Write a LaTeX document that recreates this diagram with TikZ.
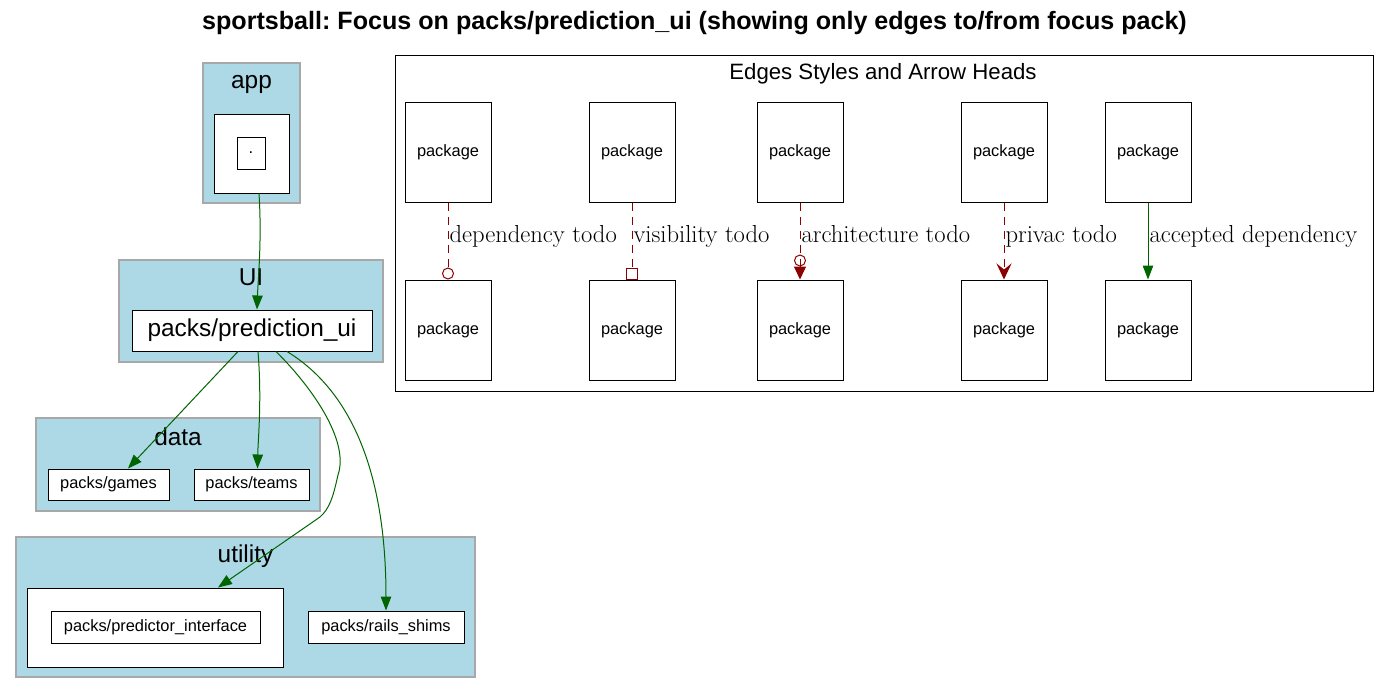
\documentclass[tikz,border=0pt]{standalone}
\usepackage{fontspec}
\newfontfamily\arialfont{Liberation Sans}
\usepackage{xcolor}
\usetikzlibrary{arrows.meta, positioning, calc}
\definecolor{clusterblue}{HTML}{ADD8E6}
\definecolor{clusterline}{HTML}{A8A8A8}
\definecolor{depgreen}{HTML}{006400}
\definecolor{todored}{HTML}{8B0000}
\frenchspacing
\tikzset{
    cluster/.style={
        draw=clusterline,
        fill=clusterblue,
        line width=1.3pt,
        inner sep=0pt,
    },
    clabel/.style={
        anchor=base,
        inner sep=0pt,
        font=\arialfont\fontsize{24.4}{28}\selectfont,
    },
    holder/.style={
        draw=black,
        fill=white,
        line width=1pt,
        inner sep=0pt,
    },
    pack/.style={
        holder,
        font=\arialfont\fontsize{16.4}{19}\selectfont,
    },
    bigpack/.style={
        holder,
        font=\arialfont\fontsize{24.4}{28}\selectfont,
    },
    legendpkg/.style={
        pack,
        minimum width=86pt,
        minimum height=100pt,
    },
    dep/.style={
        draw=depgreen,
        line width=1pt,
        -{Triangle[length=14pt, width=10.5pt]},
    },
    todo/.style={
        draw=todored,
        line width=1pt,
        dash pattern=on 8pt off 6pt,
    },
    tlabel/.style={
        anchor=base west,
        inner sep=1pt,
        yshift=-1pt,
        font=\fontsize{24.6}{28}\selectfont,
    },
}

\begin{document}
\begin{tikzpicture}[x=1pt, y=-1pt, node distance=77pt and 97pt]
    \useasboundingbox (0,0) rectangle (1390,694);

    \node[anchor=base, inner sep=0pt, font=\arialfont\bfseries\fontsize{25.1}{29}\selectfont] (title) at (694.5,29)
        {sportsball: Focus on packs/prediction\_ui (showing only edges to/from focus pack)};

    % clusters
    \node[cluster, minimum width=97pt, minimum height=140pt] (app) at (251.5,133) {};
    \node[clabel] (app-l) at (251.5,88) {app};
    \node[holder, minimum width=75pt, minimum height=79pt] (apphold) at (251.5,153.5) {};
    \node[pack, minimum width=28pt, minimum height=32pt] (dot) at (251,153) {.};

    \node[cluster, minimum width=264pt, minimum height=102pt] (ui) at (251,311) {};
    \node[clabel] (ui-l) at (251,285) {UI};
    \node[bigpack, minimum width=240pt, minimum height=41pt] (predui) at (252,330.5) {packs/prediction\_ui};

    \node[cluster, minimum width=284pt, minimum height=93pt] (data) at (178,464.5) {};
    \node[clabel] (data-l) at (178,445) {data};
    \node[pack, minimum width=121pt, minimum height=31pt] (games) at (108.5,484.5) {packs/games};
    \node[pack, minimum width=115pt, minimum height=31pt] (teams) at (251.5,484.5) {packs/teams};

    \node[cluster, minimum width=459pt, minimum height=140pt] (utility) at (245.5,607) {};
    \node[clabel] (utility-l) at (245.5,562) {utility};
    \node[holder, minimum width=256pt, minimum height=79pt] (predhold) at (155,627.5) {};
    \node[pack, minimum width=209pt, minimum height=32pt] (predint) at (155.5,627) {packs/predictor\_interface};
    \node[pack, minimum width=156pt, minimum height=32pt] (rails) at (386,627) {packs/rails\_shims};

    % legend
    \node[draw=black, line width=1pt, minimum width=978pt, minimum height=336pt, inner sep=0pt] (legend) at (884,223) {};
    \node[anchor=base, inner sep=0pt, font=\arialfont\fontsize{22.2}{25}\selectfont] (legend-l) at (883,79) {Edges Styles and Arrow Heads};

    \node[legendpkg] (ltop1) at (448,152) {package};
    \node[legendpkg] (ltop2) [right=97pt of ltop1] {package};
    \node[legendpkg] (ltop3) [right=81pt of ltop2] {package};
    \node[legendpkg] (ltop4) [right=117pt of ltop3] {package};
    \node[legendpkg] (ltop5) [right=57pt of ltop4] {package};
    \foreach \i in {1,...,5}
        \node[legendpkg] (lbot\i) [below=of ltop\i] {package};

    \draw[todo, -{Circle[open, length=12pt, width=12pt]}] (ltop1) -- node[tlabel] {dependency todo} (lbot1);
    \draw[todo, -{Square[open, length=12pt, width=12pt]}] (ltop2) -- node[tlabel] {visibility todo} (lbot2);
    \draw[todo, -{Circle[open, length=12pt, width=12pt] Triangle[length=13pt, width=12pt]}] (ltop3) -- node[tlabel] {architecture todo} (lbot3);
    \draw[todo, -{Stealth[length=16pt, width=15pt, inset=6pt]}] (ltop4) -- node[tlabel] {privac todo} (lbot4);
    \draw[dep] (ltop5) -- node[tlabel] {accepted dependency} (lbot5);

    % edges to/from focus pack
    \draw[dep] ($(apphold.south)+(7.5,0)$) .. controls (262,240) and (258,280) .. ($(predui.north)+(5,0)$);
    \draw[dep] ($(predui.south)+(-14,0)$) -- ($(games.north)+(19.5,0)$);
    \draw[dep] ($(predui.south)+(6,0)$) .. controls (262,400) and (258,440) .. ($(teams.north)+(6,0)$);
    \draw[dep] ($(predui.south)+(24,0)$) .. controls (310,385) and (350,440) .. (338,475)
        .. controls (333,497) and (330,508) .. (320,517) -- ($(predhold.north)+(63,0)$);
    \draw[dep] ($(predui.south)+(35,0)$) .. controls (350,390) and (386,470) .. (rails.north);
\end{tikzpicture}
\end{document}
